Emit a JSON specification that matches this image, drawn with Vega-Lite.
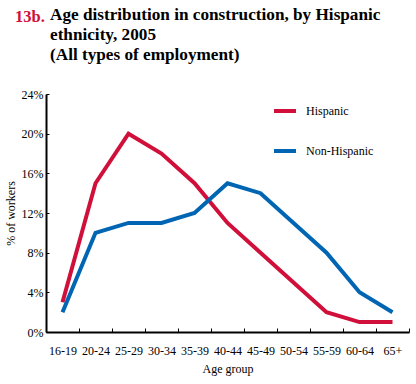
{
  "$schema": "https://vega.github.io/schema/vega-lite/v6.json",
  "background": "white",
  "padding": {"left": 4, "top": 5, "right": 5, "bottom": 5},
  "title": {
    "text": "13b.",
    "color": "#D0103A",
    "font": "Liberation Serif",
    "fontSize": 16.5,
    "fontWeight": "bold",
    "anchor": "start",
    "frame": "group",
    "dx": -31,
    "offset": -20
  },
  "vconcat": [
    {
      "width": 363,
      "height": 238,
      "title": {
        "text": ["Age distribution in construction, by Hispanic", "ethnicity, 2005", "(All types of employment)"],
        "color": "black",
        "font": "Liberation Serif",
        "fontSize": 17.2,
        "fontWeight": "bold",
        "lineHeight": 20,
        "anchor": "start",
        "frame": "group",
        "dx": 4,
        "offset": 25
      },
      "data": {
        "values": [
          {"age": "16-19", "group": "Hispanic", "pct": 0.03},
          {"age": "20-24", "group": "Hispanic", "pct": 0.15},
          {"age": "25-29", "group": "Hispanic", "pct": 0.20},
          {"age": "30-34", "group": "Hispanic", "pct": 0.18},
          {"age": "35-39", "group": "Hispanic", "pct": 0.15},
          {"age": "40-44", "group": "Hispanic", "pct": 0.11},
          {"age": "45-49", "group": "Hispanic", "pct": 0.08},
          {"age": "50-54", "group": "Hispanic", "pct": 0.05},
          {"age": "55-59", "group": "Hispanic", "pct": 0.02},
          {"age": "60-64", "group": "Hispanic", "pct": 0.01},
          {"age": "65+", "group": "Hispanic", "pct": 0.01},
          {"age": "16-19", "group": "Non-Hispanic", "pct": 0.02},
          {"age": "20-24", "group": "Non-Hispanic", "pct": 0.10},
          {"age": "25-29", "group": "Non-Hispanic", "pct": 0.11},
          {"age": "30-34", "group": "Non-Hispanic", "pct": 0.11},
          {"age": "35-39", "group": "Non-Hispanic", "pct": 0.12},
          {"age": "40-44", "group": "Non-Hispanic", "pct": 0.15},
          {"age": "45-49", "group": "Non-Hispanic", "pct": 0.14},
          {"age": "50-54", "group": "Non-Hispanic", "pct": 0.11},
          {"age": "55-59", "group": "Non-Hispanic", "pct": 0.08},
          {"age": "60-64", "group": "Non-Hispanic", "pct": 0.04},
          {"age": "65+", "group": "Non-Hispanic", "pct": 0.02}
        ]
      },
      "mark": {"type": "line", "strokeWidth": 4},
      "encoding": {
        "x": {
          "field": "age",
          "type": "ordinal",
          "sort": ["16-19", "20-24", "25-29", "30-34", "35-39", "40-44", "45-49", "50-54", "55-59", "60-64", "65+"],
          "bandPosition": 0.5,
          "scale": {"type": "band", "paddingInner": 0, "paddingOuter": 0},
          "axis": {
            "title": "Age group",
            "labelAngle": 0,
            "tickBand": "extent",
            "tickSize": -4,
            "tickColor": "black",
            "domainColor": "black",
            "domainWidth": 2,
            "labelFont": "Liberation Serif",
            "labelFontSize": 12,
            "labelColor": "black",
            "labelPadding": 17,
            "titleFont": "Liberation Serif",
            "titleFontSize": 12,
            "titleFontWeight": "normal",
            "titleColor": "black",
            "titlePadding": 7,
            "grid": false
          }
        },
        "y": {
          "field": "pct",
          "type": "quantitative",
          "scale": {"domain": [0, 0.24], "nice": false},
          "axis": {
            "title": "% of workers",
            "values": [0, 0.04, 0.08, 0.12, 0.16, 0.2, 0.24],
            "format": ".0%",
            "tickSize": -3,
            "tickColor": "black",
            "domainColor": "black",
            "domainWidth": 2,
            "labelFont": "Liberation Serif",
            "labelFontSize": 12,
            "labelColor": "black",
            "labelPadding": 6,
            "titleFont": "Liberation Serif",
            "titleFontSize": 12,
            "titleFontWeight": "normal",
            "titleColor": "black",
            "titlePadding": 4,
            "grid": false
          }
        },
        "color": {
          "field": "group",
          "type": "nominal",
          "scale": {"domain": ["Hispanic", "Non-Hispanic"], "range": ["#D0103A", "#0066B3"]},
          "legend": {
            "title": null,
            "orient": "none",
            "legendX": 226,
            "legendY": 4,
            "symbolType": "stroke",
            "symbolSize": 484,
            "symbolStrokeWidth": 4,
            "labelFont": "Liberation Serif",
            "labelFontSize": 12,
            "labelColor": "black",
            "labelOffset": 8,
            "rowPadding": 19,
            "padding": 0
          }
        }
      }
    }
  ],
  "config": {"view": {"stroke": null}, "concat": {"spacing": 0}}
}
